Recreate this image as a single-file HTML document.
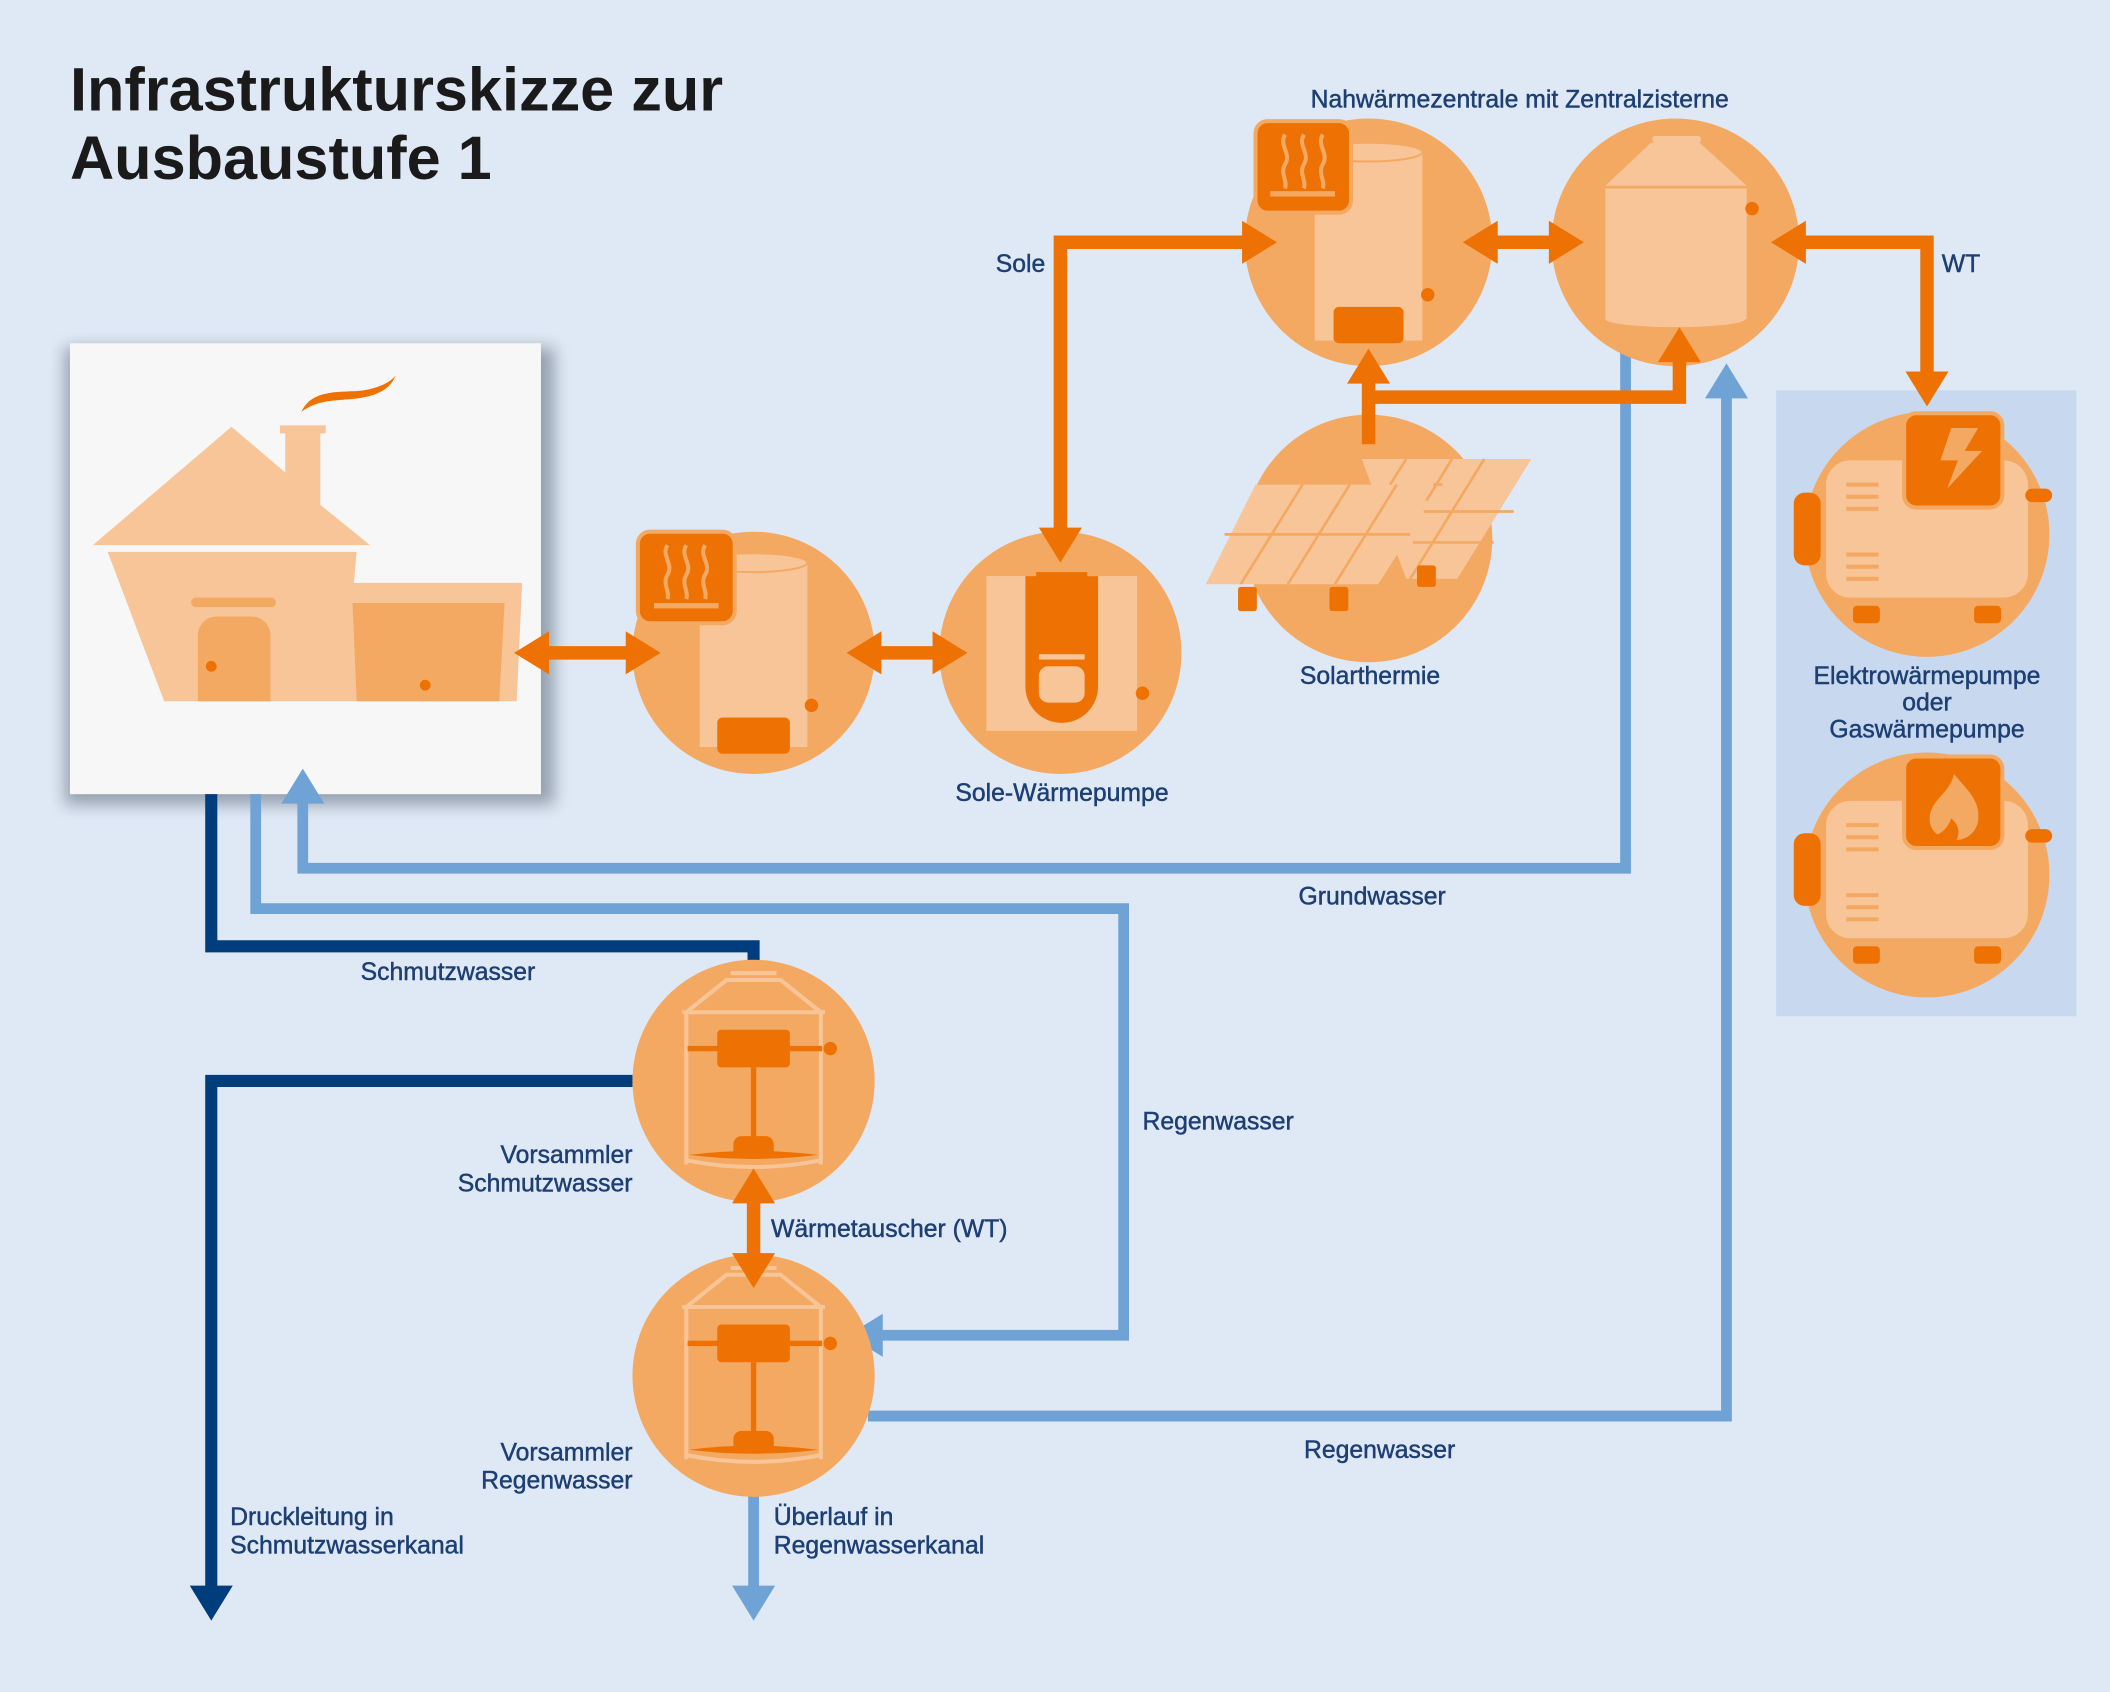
<!DOCTYPE html>
<html><head><meta charset="utf-8"><style>
html,body{margin:0;padding:0;background:#dfe9f6}
svg{display:block}
text{font-family:"Liberation Sans",sans-serif;fill:#1d3f73;font-size:18.4px;stroke:#1d3f73;stroke-width:0.35}
</style></head><body>
<svg width="2110" height="1692" viewBox="0 0 1568 1257" preserveAspectRatio="none" xmlns="http://www.w3.org/2000/svg">
<defs>
<filter id="sh" x="-10%" y="-10%" width="120%" height="120%"><feGaussianBlur stdDeviation="6"/></filter>
</defs>
<rect width="1568" height="1257" fill="#dfe9f6"/>
<text x="52" y="82" style="font-size:45.5px;font-weight:bold;fill:#1a1a1a;stroke:none">Infrastrukturskizze zur</text>
<text x="52" y="133" style="font-size:45.5px;font-weight:bold;fill:#1a1a1a;stroke:none">Ausbaustufe 1</text>

<rect x="1320" y="290" width="223" height="465" fill="#c8d8ee"/>

<rect x="48" y="258" width="364" height="340" fill="#5a6675" opacity="0.55" filter="url(#sh)"/>
<rect x="52" y="255" width="350" height="335" fill="#f7f7f7"/>
<g fill="#f8c598">
<polygon points="69,405 172,317 212,351 212,322 238,322 238,375 275,405"/>
<rect x="208" y="316" width="34" height="6"/>
<polygon points="80,410 265,410 263,433 388,433 384,521 122,521"/>
</g>
<polygon points="262,448 375,448 371,521 265,521" fill="#f4a963"/>
<path d="M147,521 V472 a14,14 0 0 1 14,-14 h26 a14,14 0 0 1 14,14 V521 Z" fill="#f4a963"/>
<rect x="142" y="444" width="63" height="7" rx="3.5" fill="#f4a963"/>
<circle cx="157" cy="495" r="4" fill="#ee7203"/><circle cx="316" cy="509" r="4" fill="#ee7203"/>
<path d="M224,306 C232,288 255,292 270,290 C282,288 290,284 294,279 C288,294 270,296 255,297 C240,298 232,300 224,306Z" fill="#ee7203"/>

<g fill="none" stroke="#6fa3d6" stroke-width="8">
<path d="M1208,258 V645 H225 V595"/>
<path d="M190,590 V675 H835 V992 H655"/>
<path d="M645,1052 H1283 V292"/>
<path d="M560,1110 V1182"/>
</g>
<g fill="#6fa3d6">
<polygon points="225,571 209,597 241,597"/>
<polygon points="630,992 656,976 656,1008"/>
<polygon points="1283,270 1267,296 1299,296"/>
<polygon points="560,1204 544,1178 576,1178"/>
</g>
<g fill="none" stroke="#003d7c" stroke-width="9">
<path d="M157,590 V703 H560 V748"/>
<path d="M470,803 H157 V1180"/>
</g>
<g fill="#003d7c">
<polygon points="560,772 543,746 577,746"/>
<polygon points="157,1204 141,1178 173,1178"/>
</g>

<g fill="#f4a963">
<circle cx="560" cy="485" r="90"/><circle cx="788" cy="485" r="90"/>
<circle cx="1017" cy="180" r="92"/><circle cx="1245" cy="180" r="92"/>
<circle cx="1017" cy="400" r="92"/>
<circle cx="1432" cy="397" r="91"/><circle cx="1432" cy="650" r="91"/>
<circle cx="560" cy="803" r="90"/><circle cx="560" cy="1022" r="90"/>
</g>

<rect x="520" y="418" width="80" height="137" fill="#f8c598"/>
<ellipse cx="560" cy="418" rx="40" ry="7" fill="#f8c598" stroke="#f4a963" stroke-width="1.5"/>
<rect x="533" y="533" width="54" height="27" rx="4" fill="#ee7203"/>
<circle cx="603" cy="524" r="5" fill="#ee7203"/>
<rect x="474" y="395" width="72" height="68" rx="9" fill="#ee7203" stroke="#f4a963" stroke-width="3"/>
<g fill="none" stroke="#f4a963" stroke-width="3"><path d="M496,405 c-5,8 5,14 0,22 c-4,7 2,12 0,18 M510,405 c-5,8 5,14 0,22 c-4,7 2,12 0,18 M524,405 c-5,8 5,14 0,22 c-4,7 2,12 0,18"/><path d="M486,450 H534" stroke-width="4"/></g>

<rect x="977" y="113" width="80" height="140" fill="#f8c598"/>
<ellipse cx="1017" cy="113" rx="40" ry="7" fill="#f8c598" stroke="#f4a963" stroke-width="1.5"/>
<rect x="991" y="228" width="52" height="27" rx="4" fill="#ee7203"/>
<circle cx="1061" cy="219" r="5" fill="#ee7203"/>
<rect x="933" y="90" width="71" height="68" rx="9" fill="#ee7203" stroke="#f4a963" stroke-width="3"/>
<g fill="none" stroke="#f4a963" stroke-width="3"><path d="M955,100 c-5,8 5,14 0,22 c-4,7 2,12 0,18 M969,100 c-5,8 5,14 0,22 c-4,7 2,12 0,18 M983,100 c-5,8 5,14 0,22 c-4,7 2,12 0,18"/><path d="M944,144 H992" stroke-width="4"/></g>

<rect x="733" y="428" width="112" height="115" fill="#f8c598"/>
<path d="M762,428 H816 V510 a27,27 0 0 1 -54,0Z" fill="#ee7203"/>
<rect x="770" y="425" width="38" height="8" fill="#ee7203"/>
<rect x="772" y="495" width="34" height="27" rx="7" fill="#f8c598"/>
<rect x="772" y="486" width="34" height="4" fill="#f8c598"/>
<circle cx="849" cy="515" r="5" fill="#ee7203"/>

<polygon points="1193,138 1227,106 1263,106 1298,138" fill="#f8c598"/>
<rect x="1228" y="101" width="36" height="5" rx="2" fill="#f8c598"/>
<rect x="1193" y="140" width="105" height="97" fill="#f8c598"/>
<ellipse cx="1245" cy="237" rx="52" ry="6" fill="#f8c598"/>
<circle cx="1302" cy="155" r="5" fill="#ee7203"/>

<!-- solar -->
<g fill="#f8c598">
<polygon points="1012,341 1138,341 1083,430 1045,430"/>
<polygon points="933,360 1072,360 1024,434 896,434"/>
</g>
<g stroke="#f4a963" stroke-width="2" fill="none">
<path d="M910,397 H1048 M968,360 L922,434 M1003,360 L957,434 M1038,360 L992,434 M1045,341 L1033,360 M1079,341 L1060,372 M1103,341 L1048,430 M1058,380 H1125 M1050,403 H1110 M1065,360 H1072"/>
</g>
<g fill="#ee7203"><rect x="920" y="436" width="14" height="18" rx="2"/><rect x="988" y="436" width="14" height="18" rx="2"/><rect x="1053" y="420" width="14" height="16" rx="2"/></g>

<g>
<rect x="1357" y="342" width="150" height="102" rx="18" fill="#f8c598"/>
<rect x="1333" y="366" width="20" height="54" rx="8" fill="#ee7203"/>
<rect x="1505" y="363" width="20" height="10" rx="5" fill="#ee7203"/>
<rect x="1377" y="450" width="20" height="13" rx="3" fill="#ee7203"/><rect x="1467" y="450" width="20" height="13" rx="3" fill="#ee7203"/>
<g stroke="#f4a963" stroke-width="3"><path d="M1372,360 H1396 M1372,369 H1396 M1372,378 H1396 M1372,412 H1396 M1372,421 H1396 M1372,430 H1396"/></g>
<rect x="1415" y="307" width="73" height="70" rx="9" fill="#ee7203" stroke="#f4a963" stroke-width="3"/>
<polygon points="1450,318 1470,318 1460,335 1473,335 1447,363 1455,342 1442,342" fill="#f4a963"/>
</g>
<g>
<rect x="1357" y="595" width="150" height="102" rx="18" fill="#f8c598"/>
<rect x="1333" y="619" width="20" height="54" rx="8" fill="#ee7203"/>
<rect x="1505" y="616" width="20" height="10" rx="5" fill="#ee7203"/>
<rect x="1377" y="703" width="20" height="13" rx="3" fill="#ee7203"/><rect x="1467" y="703" width="20" height="13" rx="3" fill="#ee7203"/>
<g stroke="#f4a963" stroke-width="3"><path d="M1372,613 H1396 M1372,622 H1396 M1372,631 H1396 M1372,665 H1396 M1372,674 H1396 M1372,683 H1396"/></g>
<rect x="1415" y="562" width="73" height="68" rx="9" fill="#ee7203" stroke="#f4a963" stroke-width="3"/>
<path d="M1452,575 c10,12 20,20 18,35 c-2,10 -10,14 -16,14 c3,-6 1,-12 -4,-16 c-2,6 -6,10 -10,12 c-6,-4 -8,-12 -4,-20 c4,-8 14,-14 16,-25Z" fill="#f4a963"/>
</g>

<g fill="none" stroke="#f8c598" stroke-width="3">
<path d="M510,865 V752 L540,728 H580 L610,752 V865"/><path d="M507,752 H613"/><path d="M543,723 H577"/>
<path d="M510,862 Q560,872 610,862"/>
</g>
<rect x="533" y="765" width="54" height="28" rx="3" fill="#ee7203"/>
<rect x="511" y="777" width="100" height="4" fill="#ee7203"/>
<rect x="558" y="793" width="4" height="55" fill="#ee7203"/>
<path d="M545,858 V850 a6,6 0 0 1 6,-6 h18 a6,6 0 0 1 6,6 V858Z" fill="#ee7203"/>
<path d="M512,858 Q560,852 608,858 Q560,864 512,858Z" fill="#ee7203"/>
<circle cx="617" cy="779" r="5" fill="#ee7203"/>
<g fill="none" stroke="#f8c598" stroke-width="3">
<path d="M510,1084 V971 L540,947 H580 L610,971 V1084"/><path d="M507,971 H613"/><path d="M543,942 H577"/>
<path d="M510,1081 Q560,1091 610,1081"/>
</g>
<rect x="533" y="984" width="54" height="28" rx="3" fill="#ee7203"/>
<rect x="511" y="996" width="100" height="4" fill="#ee7203"/>
<rect x="558" y="1012" width="4" height="55" fill="#ee7203"/>
<path d="M545,1077 V1069 a6,6 0 0 1 6,-6 h18 a6,6 0 0 1 6,6 V1077Z" fill="#ee7203"/>
<path d="M512,1077 Q560,1071 608,1077 Q560,1083 512,1077Z" fill="#ee7203"/>
<circle cx="617" cy="998" r="5" fill="#ee7203"/>

<g fill="none" stroke="#ee7203" stroke-width="10">
<path d="M400,485 H472"/><path d="M648,485 H700"/>
<path d="M788,400 V180 H930"/>
<path d="M1105,180 H1158"/>
<path d="M1335,180 H1432 V280"/>
<path d="M1017,330 V280"/><path d="M1017,295 H1248 V265"/>
<path d="M560,888 V938"/>
</g>
<g fill="#ee7203">
<polygon points="382,485 408,469 408,501"/><polygon points="491,485 465,469 465,501"/>
<polygon points="629,485 655,469 655,501"/><polygon points="719,485 693,469 693,501"/>
<polygon points="788,418 772,392 804,392"/><polygon points="949,180 923,164 923,196"/>
<polygon points="1087,180 1113,164 1113,196"/><polygon points="1177,180 1151,164 1151,196"/>
<polygon points="1316,180 1342,164 1342,196"/><polygon points="1432,302 1416,276 1448,276"/>
<polygon points="1017,259 1001,285 1033,285"/><polygon points="1248,243 1232,269 1264,269"/>
<polygon points="560,868 544,894 576,894"/><polygon points="560,957 544,931 576,931"/>
</g>

<text x="974" y="80">Nahwärmezentrale mit Zentralzisterne</text>
<text x="740" y="202">Sole</text>
<text x="1443" y="202">WT</text>
<text x="966" y="508">Solarthermie</text>
<text x="710" y="595">Sole-Wärmepumpe</text>
<text x="1432" y="508" text-anchor="middle">Elektrowärmepumpe</text>
<text x="1432" y="528" text-anchor="middle">oder</text>
<text x="1432" y="548" text-anchor="middle">Gaswärmepumpe</text>
<text x="965" y="672">Grundwasser</text>
<text x="268" y="728">Schmutzwasser</text>
<text x="849" y="839">Regenwasser</text>
<text x="470" y="864" text-anchor="end">Vorsammler</text>
<text x="470" y="885" text-anchor="end">Schmutzwasser</text>
<text x="573" y="919">Wärmetauscher (WT)</text>
<text x="969" y="1083">Regenwasser</text>
<text x="470" y="1085" text-anchor="end">Vorsammler</text>
<text x="470" y="1106" text-anchor="end">Regenwasser</text>
<text x="171" y="1133">Druckleitung in</text>
<text x="171" y="1154">Schmutzwasserkanal</text>
<text x="575" y="1133">Überlauf in</text>
<text x="575" y="1154">Regenwasserkanal</text>
</svg>
</body></html>
